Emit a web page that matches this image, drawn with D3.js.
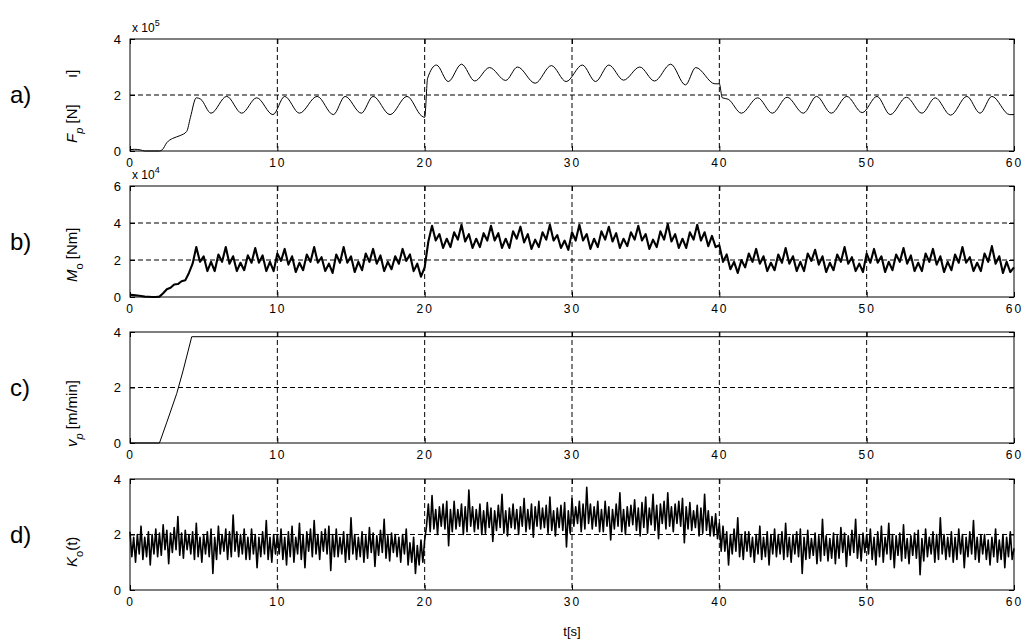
<!DOCTYPE html>
<html>
<head>
<meta charset="utf-8">
<script src="https://cdn.jsdelivr.net/npm/d3@7"></script>
<style>
  body { margin: 0; background: #fff; }
  text { font-family: "Liberation Sans", Arial, sans-serif; fill: #000; }
</style>
</head>
<body>
<svg id="chart"></svg>
<script>
const svg = d3.select('#chart')
    .attr('width', 1026)
    .attr('height', 643);

// x ticks shared by all four panels
const xTicks = [0, 10, 20, 30, 40, 50, 60];

// a) F_p [N] x 1e5 -- key points
const tA = [0, 0.3, 0.7, 1.0, 2.0, 2.2, 2.5, 2.9, 3.4, 3.85, 4.1, 4.5, 4.8, 5.5, 6.56, 7.58, 8.6, 9.7, 10.5, 11.5,
    12.7, 13.8, 14.6, 15.7, 16.5, 17.65, 18.8, 19.8, 20.0, 20.2, 20.8, 21.6, 22.5, 23.4, 24.4, 25.5, 26.3, 27.5,
    28.6, 29.6, 30.7, 31.6, 32.5, 33.5, 34.6, 35.6, 36.7, 37.7, 38.4, 39.7, 40.0, 40.2, 40.6, 41.5, 42.6, 43.6,
    44.6, 45.7, 46.6, 47.6, 48.65, 49.7, 50.7, 51.6, 52.7, 53.75, 54.65, 55.7, 56.8, 57.7, 58.5, 59.7, 60];
const fA = [0.05, 0.06, 0.04, 0.0, 0.0, 0.05, 0.3, 0.45, 0.55, 0.7, 1.2, 1.9, 1.85, 1.35, 1.95, 1.35, 1.9, 1.3, 1.95, 1.35,
    1.95, 1.3, 1.95, 1.35, 1.95, 1.3, 1.95, 1.25, 1.2, 2.6, 3.07, 2.48, 3.1, 2.5, 2.98, 2.52, 3.0, 2.42,
    3.05, 2.48, 3.07, 2.48, 3.07, 2.53, 3.0, 2.5, 3.1, 2.36, 2.98, 2.4, 2.4, 1.9, 1.85, 1.35, 1.9, 1.35,
    1.92, 1.35, 1.95, 1.35, 1.95, 1.37, 1.95, 1.3, 1.92, 1.35, 1.9, 1.28, 1.95, 1.35, 1.95, 1.3, 1.3];

// b) M_o [Nm] x 1e4, sampled every 0.25 s (one row = 2 s)
const dtB = 0.25;
const mB = [
    0.12, 0.1, 0.08, 0.05, 0.02, 0.01, 0.0, 0.0,
    0.02, 0.2, 0.42, 0.5, 0.68, 0.7, 0.85, 0.9,
    1.3, 1.8, 2.7, 1.9, 2.2, 1.4, 1.9, 1.4,
    2.3, 1.9, 2.7, 1.8, 2.2, 1.4, 1.85, 1.45,
    2.25, 1.85, 2.65, 1.85, 2.25, 1.4, 1.9, 1.4,
    2.35, 1.95, 2.6, 1.75, 2.2, 1.35, 1.85, 1.45,
    2.3, 1.9, 2.7, 1.85, 2.15, 1.4, 1.8, 1.3,
    2.3, 1.85, 2.7, 1.85, 2.2, 1.35, 1.9, 1.45,
    2.35, 1.9, 2.6, 1.8, 2.25, 1.4, 1.9, 1.5,
    2.2, 1.8, 2.6, 1.95, 2.3, 1.4, 1.8, 1.1,
    1.6, 3.0, 3.85, 3.05, 3.4, 2.65, 3.15, 2.7,
    3.5, 3.1, 3.9, 3.0, 3.4, 2.65, 3.15, 2.7,
    3.45, 3.05, 3.85, 3.05, 3.45, 2.65, 3.15, 2.65,
    3.55, 3.15, 3.8, 2.95, 3.4, 2.6, 3.1, 2.7,
    3.5, 3.1, 3.9, 3.05, 3.35, 2.65, 3.05, 2.55,
    3.5, 3.05, 3.9, 3.05, 3.4, 2.6, 3.15, 2.7,
    3.55, 3.1, 3.8, 3.0, 3.45, 2.65, 3.15, 2.75,
    3.5, 3.1, 3.85, 3.05, 3.4, 2.6, 3.1, 2.7,
    3.55, 3.1, 3.95, 3.0, 3.4, 2.65, 3.15, 2.65,
    3.5, 3.1, 3.9, 3.05, 3.5, 2.75, 3.3, 2.7,
    2.8, 1.9, 2.3, 1.5, 1.9, 1.3, 2.0, 1.6,
    2.35, 1.9, 2.6, 1.8, 2.2, 1.4, 1.85, 1.45,
    2.3, 1.85, 2.65, 1.8, 2.2, 1.4, 1.9, 1.4,
    2.35, 1.95, 2.55, 1.75, 2.2, 1.35, 1.85, 1.45,
    2.3, 1.9, 2.7, 1.8, 2.15, 1.4, 1.8, 1.35,
    2.35, 1.85, 2.6, 1.85, 2.2, 1.35, 1.9, 1.45,
    2.3, 1.9, 2.65, 1.8, 2.25, 1.4, 1.85, 1.4,
    2.35, 1.9, 2.6, 1.75, 2.2, 1.35, 1.9, 1.45,
    2.3, 1.85, 2.7, 1.85, 2.15, 1.4, 1.85, 1.4,
    2.35, 1.9, 2.75, 1.8, 2.2, 1.3, 1.9, 1.35,
    1.6];

// c) v_p [m/min]
const tC = [0, 2.0, 2.5, 3.17, 3.6, 3.96, 4.19, 60];
const vC = [0, 0, 0.75, 1.78, 2.6, 3.35, 3.83, 3.83];

// d) K_o(t), sampled every 0.125 s (one row = 2 s)
const dtD = 0.125;
const kD = [
    2.1, 1.2, 1.9, 1.0, 2.0, 1.3, 2.3, 1.1, 1.9, 1.2, 2.1, 0.9, 2.0, 1.3, 2.2, 1.2,
    2.05, 1.25, 2.35, 1.45, 2.15, 0.95, 2.05, 1.35, 2.25, 1.45, 2.65, 1.25, 2.05, 1.15, 2.15, 1.45,
    2.0, 1.3, 2.1, 1.1, 2.4, 1.2, 1.9, 1.0, 2.0, 1.3, 2.1, 1.2, 2.2, 0.6, 1.9, 1.1,
    2.3, 1.3, 2.0, 1.4, 2.2, 1.1, 2.1, 1.2, 2.7, 1.4, 2.1, 1.2, 2.0, 1.3, 2.2, 1.1,
    1.9, 1.1, 2.2, 1.3, 2.0, 0.8, 1.9, 1.2, 2.1, 1.3, 2.5, 1.1, 1.9, 1.0, 2.0, 1.3,
    2.0, 1.3, 2.2, 1.1, 1.9, 0.9, 2.1, 1.2, 2.3, 1.0, 1.9, 1.3, 2.4, 1.1, 2.0, 0.8,
    2.1, 1.4, 2.2, 1.2, 2.5, 1.3, 2.0, 1.1, 2.1, 1.4, 2.2, 1.3, 2.3, 0.7, 2.0, 1.2,
    2.2, 1.2, 1.9, 1.3, 2.1, 1.0, 2.0, 1.1, 2.6, 1.3, 2.0, 1.1, 1.9, 1.2, 2.1, 1.0,
    1.95, 1.15, 2.25, 1.35, 2.05, 0.85, 1.95, 1.25, 2.15, 1.35, 2.55, 1.15, 1.95, 1.05, 2.05, 1.35,
    2.0, 1.2, 1.9, 1.0, 2.0, 1.3, 2.2, 0.9, 1.7, 1.0, 1.9, 0.6, 1.6, 0.9, 1.8, 1.0,
    1.8, 2.3, 3.1, 2.1, 3.4, 2.2, 2.9, 2.0, 3.0, 2.3, 3.1, 2.2, 3.2, 1.6, 2.9, 2.1,
    3.2, 2.2, 2.9, 2.3, 3.1, 2.0, 3.0, 2.1, 3.6, 2.3, 3.0, 2.1, 2.9, 2.2, 3.1, 2.0,
    2.85, 2.05, 3.15, 2.25, 2.95, 1.75, 2.85, 2.15, 3.05, 2.25, 3.45, 2.05, 2.85, 1.95, 2.95, 2.25,
    3.1, 2.2, 2.9, 2.0, 3.0, 2.3, 3.3, 2.1, 2.9, 2.2, 3.1, 1.9, 3.0, 2.3, 3.2, 2.2,
    2.95, 2.25, 3.05, 2.05, 3.35, 2.15, 2.85, 1.95, 2.95, 2.25, 3.05, 2.15, 3.15, 1.55, 2.85, 2.05,
    3.3, 2.3, 3.0, 2.4, 3.2, 2.1, 3.1, 2.2, 3.7, 2.4, 3.1, 2.2, 3.0, 2.3, 3.2, 2.1,
    2.9, 2.1, 3.2, 2.3, 3.0, 1.8, 2.9, 2.2, 3.1, 2.3, 3.5, 2.1, 2.9, 2.0, 3.0, 2.3,
    3.05, 2.35, 3.25, 2.15, 2.95, 1.95, 3.15, 2.25, 3.35, 2.05, 2.95, 2.35, 3.45, 2.15, 3.05, 1.85,
    3.1, 2.4, 3.2, 2.2, 3.5, 2.3, 3.0, 2.1, 3.1, 2.4, 3.2, 2.3, 3.3, 1.7, 3.0, 2.2,
    3.15, 2.15, 2.85, 2.25, 3.05, 1.95, 2.95, 2.05, 3.45, 2.15, 2.85, 1.95, 2.65, 1.95, 2.75, 1.85,
    2.4, 1.4, 2.3, 1.4, 2.1, 0.9, 2.0, 1.3, 2.2, 1.4, 2.6, 1.2, 2.0, 1.1, 2.1, 1.4,
    2.1, 1.2, 1.9, 1.0, 2.0, 1.3, 2.3, 1.1, 1.9, 1.2, 2.1, 0.9, 2.0, 1.3, 2.2, 1.2,
    2.0, 1.3, 2.1, 1.1, 2.4, 1.2, 1.9, 1.0, 2.0, 1.3, 2.1, 1.2, 2.2, 0.6, 1.9, 1.1,
    2.15, 1.15, 1.85, 1.25, 2.05, 0.95, 1.95, 1.05, 2.55, 1.25, 1.95, 1.05, 1.85, 1.15, 2.05, 0.95,
    1.95, 1.15, 2.25, 1.35, 2.05, 0.85, 1.95, 1.25, 2.15, 1.35, 2.55, 1.15, 1.95, 1.05, 2.05, 1.35,
    2.0, 1.3, 2.2, 1.1, 1.9, 0.9, 2.1, 1.2, 2.3, 1.0, 1.9, 1.3, 2.4, 1.1, 2.0, 0.8,
    1.95, 1.25, 2.05, 1.05, 2.35, 1.15, 1.85, 0.95, 1.95, 1.25, 2.05, 1.15, 2.15, 0.55, 1.85, 1.05,
    2.2, 1.2, 1.9, 1.3, 2.1, 1.0, 2.0, 1.1, 2.6, 1.3, 2.0, 1.1, 1.9, 1.2, 2.1, 1.0,
    1.9, 1.1, 2.2, 1.3, 2.0, 0.8, 1.9, 1.2, 2.1, 1.3, 2.5, 1.1, 1.9, 1.0, 2.0, 1.3,
    2.0, 1.1, 1.8, 0.9, 1.9, 1.2, 2.2, 1.0, 1.8, 1.1, 2.0, 0.8, 1.9, 1.2, 2.1, 1.1,
    1.5];

// plot area left/right, panels stacked
const x = d3.scaleLinear().domain([0, 60]).range([130, 1014]);

const panels = [
    { letter: 'a)', top: 39, bottom: 151, yMax: 4, yTicks: [0, 2, 4], exp: '5',
      pts: tA.map((t, i) => [t, fA[i]]), curve: d3.curveMonotoneX, sw: 1 },
    { letter: 'b)', top: 186, bottom: 297, yMax: 6, yTicks: [0, 2, 4, 6], exp: '4',
      pts: mB.map((v, i) => [i * dtB, v]), curve: d3.curveLinear, sw: 2.1 },
    { letter: 'c)', top: 332, bottom: 443, yMax: 4, yTicks: [0, 2, 4], exp: null,
      pts: tC.map((t, i) => [t, vC[i]]), curve: d3.curveLinear, sw: 1 },
    { letter: 'd)', top: 479, bottom: 590, yMax: 4, yTicks: [0, 2, 4], exp: null,
      pts: kD.map((v, i) => [i * dtD, v]), curve: d3.curveLinear, sw: 1.6 }
];

panels.forEach(p => {
    const y = d3.scaleLinear().domain([0, p.yMax]).range([p.bottom, p.top]);
    const g = svg.append('g');

    // dashed grid, skipping the box edges
    g.selectAll('.vgrid').data(xTicks.filter(t => t > 0 && t < 60)).enter()
        .append('line')
        .attr('x1', d => x(d)).attr('x2', d => x(d))
        .attr('y1', p.top).attr('y2', p.bottom)
        .attr('stroke', '#000').attr('stroke-width', 1)
        .attr('stroke-dasharray', '5,3');
    g.selectAll('.hgrid').data(p.yTicks.filter(t => t > 0 && t < p.yMax)).enter()
        .append('line')
        .attr('x1', x(0)).attr('x2', x(60))
        .attr('y1', d => y(d)).attr('y2', d => y(d))
        .attr('stroke', '#000').attr('stroke-width', 1)
        .attr('stroke-dasharray', '5,3');

    // the trace
    const line = d3.line()
        .x(d => x(d[0]))
        .y(d => y(d[1]))
        .curve(p.curve);
    g.append('path')
        .datum(p.pts)
        .attr('d', line)
        .attr('fill', 'none')
        .attr('stroke', '#000')
        .attr('stroke-width', p.sw)
        .attr('stroke-linejoin', 'round');

    // axes, ticks pointing inwards like matlab
    const bottomAxis = g.append('g')
        .attr('transform', `translate(0,${p.bottom})`)
        .call(d3.axisBottom(x).tickValues(xTicks).tickSizeInner(-5).tickSizeOuter(0).tickPadding(7));
    g.append('g')
        .attr('transform', `translate(0,${p.top})`)
        .call(d3.axisTop(x).tickValues(xTicks).tickSizeInner(-5).tickSizeOuter(0).tickFormat(''));
    const leftAxis = g.append('g')
        .attr('transform', `translate(${x(0)},0)`)
        .call(d3.axisLeft(y).tickValues(p.yTicks).tickFormat(d3.format('d'))
            .tickSizeInner(-5).tickSizeOuter(0).tickPadding(9));
    g.append('g')
        .attr('transform', `translate(${x(60)},0)`)
        .call(d3.axisRight(y).tickValues(p.yTicks).tickSizeInner(-5).tickSizeOuter(0).tickFormat(''));
    g.selectAll('.domain').remove();
    g.selectAll('.tick line').attr('stroke', '#000');
    bottomAxis.selectAll('text')
        .attr('font-size', 12).attr('letter-spacing', '2px')
        .attr('font-family', '"DejaVu Sans Mono", monospace');
    leftAxis.selectAll('text')
        .attr('font-size', 13)
        .attr('font-family', '"Liberation Sans", Arial, sans-serif');

    // box
    g.append('rect')
        .attr('x', x(0)).attr('y', p.top)
        .attr('width', x(60) - x(0)).attr('height', p.bottom - p.top)
        .attr('fill', 'none').attr('stroke', '#000').attr('stroke-width', 1);

    // panel letter
    svg.append('text')
        .attr('x', 10).attr('y', (p.top + p.bottom) / 2 + 8)
        .attr('font-size', 24)
        .text(p.letter);

    // exponent above the axes
    if (p.exp) {
        const e = svg.append('text')
            .attr('x', x(0) + 2).attr('y', p.top - 7)
            .attr('font-size', 12);
        e.append('tspan').text('x 10');
        e.append('tspan').attr('dy', -6).attr('font-size', 9).text(p.exp);
    }
});

// y labels, rotated, anchored at their lower end
function yLabel(cx, cy, parts) {
    const t = svg.append('text')
        .attr('transform', `translate(${cx},${cy}) rotate(-90)`)
        .attr('text-anchor', 'start')
        .attr('font-size', 15);
    parts.forEach(pt => {
        const s = t.append('tspan').text(pt.s);
        if (pt.italic) s.attr('font-style', 'italic');
        if (pt.sub) s.attr('baseline-shift', 'sub').attr('font-size', 11);
    });
}
yLabel(77, 143, [{ s: 'F', italic: true }, { s: 'p', italic: true, sub: true }, { s: ' [N]' }]);
yLabel(77, 78, [{ s: 'ı]' }]);
yLabel(77, 282, [{ s: 'M', italic: true }, { s: 'o', sub: true }, { s: ' [Nm]' }]);
yLabel(77, 447, [{ s: 'v', italic: true }, { s: 'p', italic: true, sub: true }, { s: ' [m/min]' }]);
yLabel(77, 567, [{ s: 'K', italic: true }, { s: 'o', sub: true }, { s: '(t)' }]);

// x label
svg.append('text')
    .attr('x', x(30)).attr('y', 636)
    .attr('text-anchor', 'middle')
    .attr('font-size', 13)
    .text('t[s]');
</script>
</body>
</html>
